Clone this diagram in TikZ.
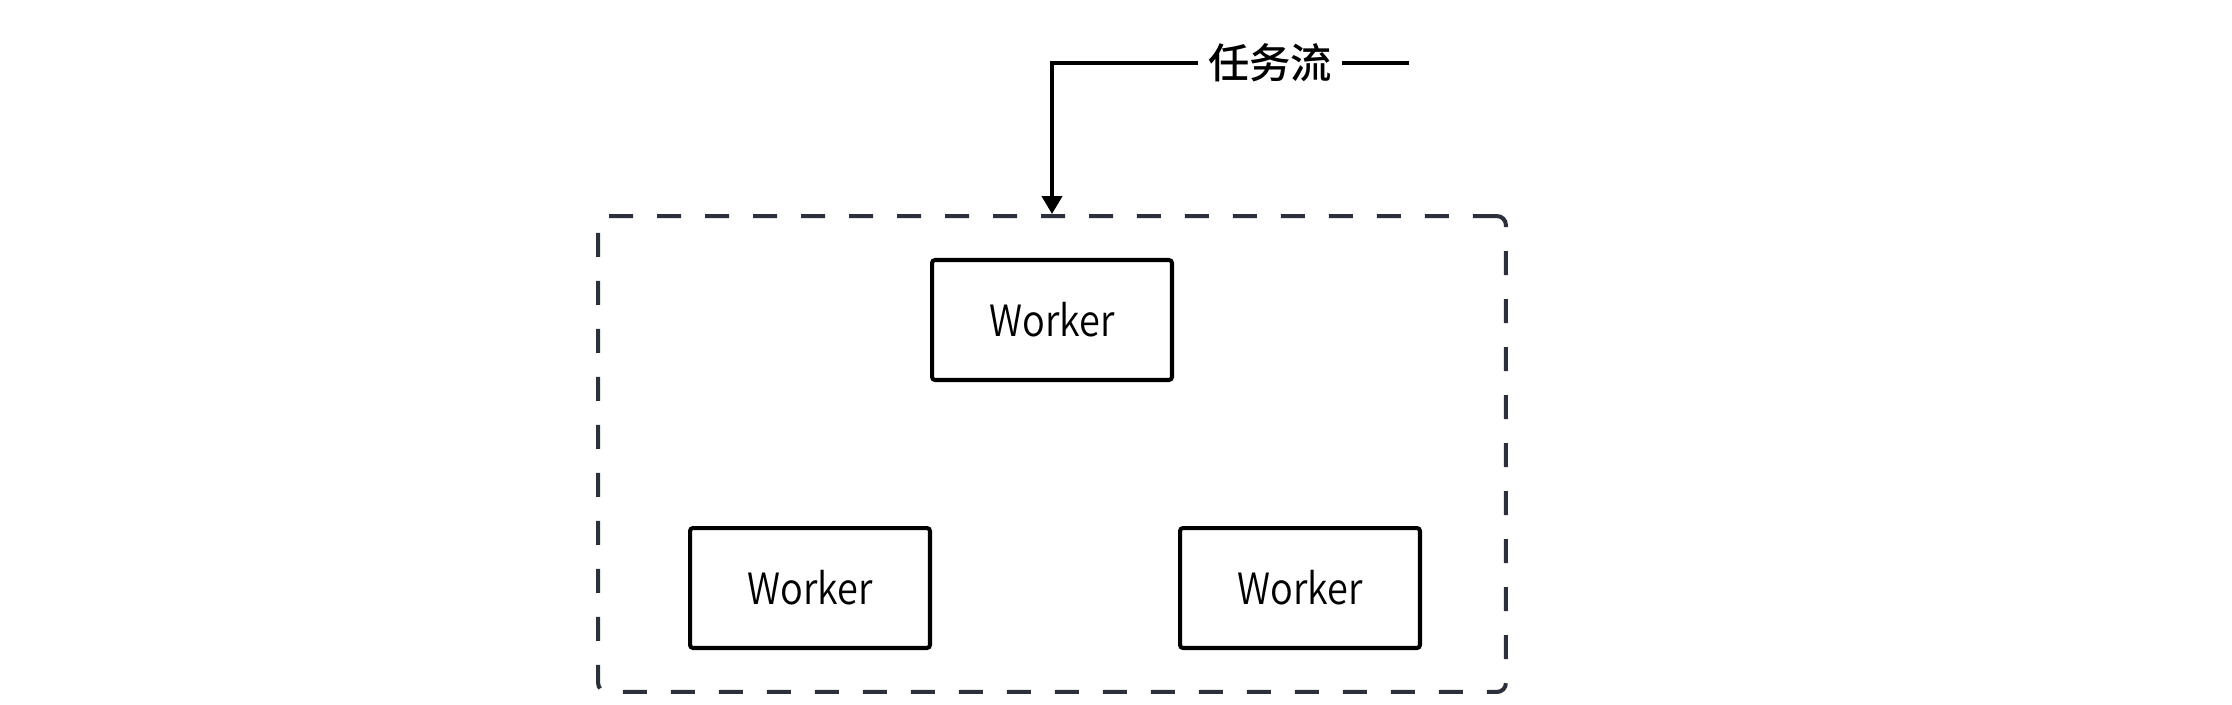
\documentclass[tikz,border=0pt]{standalone}
\usepackage{fontspec}
\setmainfont{Noto Sans CJK SC}
\newfontfamily\cjkmedium{Noto Sans CJK SC Medium}
\newfontfamily\workerfont{Noto Sans CJK SC DemiLight}[FakeStretch=0.88]
\usetikzlibrary{arrows.meta,positioning}
\definecolor{poolgray}{HTML}{2B303B}
\tikzset{worker/.style={rectangle,draw,line width=2.3pt,rounded corners=0.06cm,minimum width=4.8cm,minimum height=2.4cm,font=\workerfont\fontsize{24.5pt}{28pt}\selectfont}}
\tikzset{pool/.style={rectangle,draw=poolgray,line width=2.3pt,dash pattern=on 0.48cm off 0.48cm,rounded corners=0.18cm,minimum width=18.16cm,minimum height=9.52cm}}
\tikzset{flowlabel/.style={rectangle,inner sep=0.2cm,font=\cjkmedium\fontsize{23.5pt}{28pt}\selectfont}}
\tikzset{arrow/.style={draw,line width=2.3pt,-{Triangle[width=0.4cm,length=0.36cm]}}}
\tikzset{line/.style={draw,line width=2.3pt}}

\begin{document}
\begin{tikzpicture}[x=0.02cm,y=-0.02cm]
    \useasboundingbox (0,0) rectangle (2232,704);

    \node[pool] (pool) at (1052,454) {};

    \node[worker] (w1) at (1052,320) {Worker};
    \node[worker] (w2) at (810,588) {Worker};
    \node[worker] (w3) at (1300,588) {Worker};

    \node[flowlabel] (flow) at (1270,63) {任务流};
    \coordinate (src) at (1409,63);

        \path[line] (src) -- (flow);
        \path[arrow] (flow) -| (pool.north);
\end{tikzpicture}
\end{document}
